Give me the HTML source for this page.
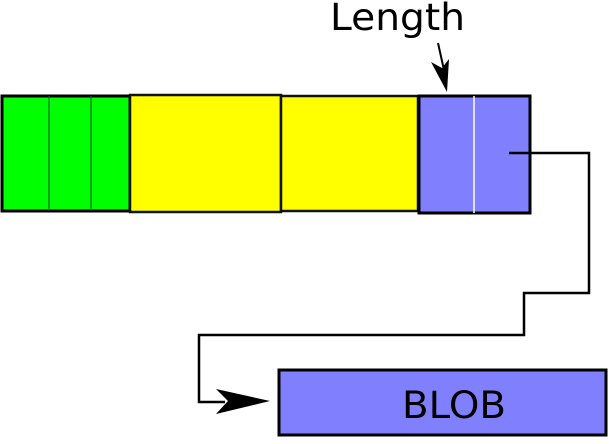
<!DOCTYPE html>
<html><head><style>body{margin:0;background:#fff}</style></head><body>
<svg width="609" height="439" viewBox="0 0 609 439" xmlns="http://www.w3.org/2000/svg">
<rect x="2" y="96" width="128" height="115" fill="#00ff00" stroke="#000" stroke-width="3"/>
<line x1="49" y1="96" x2="49" y2="211" stroke="#063" stroke-width="1.2"/>
<line x1="91" y1="96" x2="91" y2="211" stroke="#063" stroke-width="1.2"/>
<rect x="130" y="95" width="151" height="117" fill="#ffff00" stroke="#111" stroke-width="2.5"/>
<rect x="281" y="96" width="137" height="115" fill="#ffff00" stroke="#111" stroke-width="2.5"/>
<rect x="419" y="96" width="111" height="117" fill="#8080ff" stroke="#000" stroke-width="3"/>
<line x1="474" y1="96" x2="474" y2="213" stroke="#fff" stroke-width="1.5"/>
<polyline points="509,153 589,153 589,293 524,293 524,335 199,335 199,402 225,402" fill="none" stroke="#000" stroke-width="2.5"/>
<path d="M270,401 L216,389 L228,401 L216,414 Z" fill="#000"/>
<line x1="438" y1="43" x2="444" y2="70" stroke="#000" stroke-width="2"/>
<path d="M447,92 L431,62 L442,68 L449,59 Z" fill="#000"/>
<text x="330" y="30" font-family="'DejaVu Sans', 'Liberation Sans', sans-serif" font-size="37" textLength="135" lengthAdjust="spacingAndGlyphs">Length</text>
<rect x="279" y="370" width="327" height="65" fill="#8080ff" stroke="#000" stroke-width="3"/>
<text x="402" y="418" font-family="'DejaVu Sans', 'Liberation Sans', sans-serif" font-size="37" textLength="104" lengthAdjust="spacingAndGlyphs">BLOB</text>
</svg>
</body></html>
